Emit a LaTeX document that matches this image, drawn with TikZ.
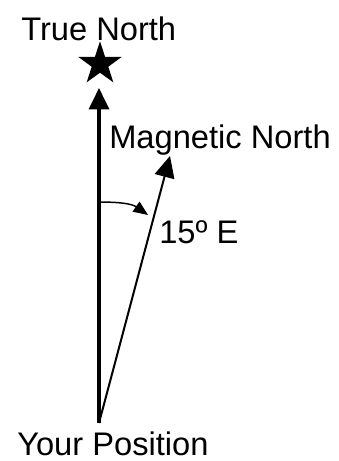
\documentclass[tikz,border=0pt]{standalone}
\usepackage{fontspec}
\setmainfont{Liberation Sans}
\usetikzlibrary{arrows.meta,shapes.geometric}
\begin{document}
\begin{tikzpicture}[x=0.75pt, y=-0.75pt,
    lbl/.style={anchor=base west, inner sep=0pt, font=\fontsize{24.5}{28}\selectfont},
    head/.style={-{Triangle[length=16pt, width=15pt]}}]
  \useasboundingbox (0,0) rectangle (339,461);
  % start point and arrow ends
  \coordinate (pos) at (99,423);
  \coordinate (tn) at (99,88);
  \coordinate (mn) at (170,156);
  \coordinate (a1) at (99,202);
  \coordinate (a2) at (148,215);
  % true north
  \draw[head, line width=2.3pt] (pos) -- (tn);
  \node[star, star points=5, star point ratio=2.6, fill=black, inner sep=0pt, minimum size=34pt] (star) at (100,64) {};
  \node[lbl] (tnlbl) at (21,40) {True North};
  % magnetic north
  \draw[head, line width=1.5pt] (pos) -- (mn);
  \node[lbl] (mnlbl) at (109,148) {Magnetic North};
  % declination
  \draw[-{Triangle[length=11pt, width=9pt]}, line width=1.1pt] (a1) to[out=0, in=145] (a2);
  \node[lbl] (decl) at (159,243) {15º E};
  \node[lbl] (poslbl) at (17,455) {Your Position};
\end{tikzpicture}
\end{document}
